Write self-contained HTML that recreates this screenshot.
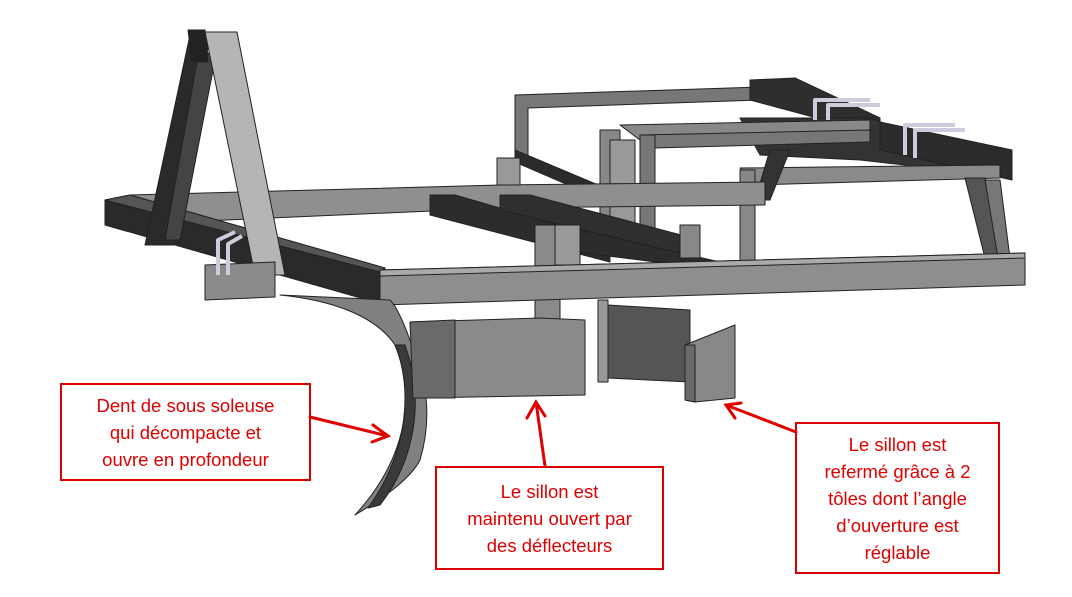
<!DOCTYPE html>
<html><head><meta charset="utf-8"><style>
html,body{margin:0;padding:0;background:#fff;width:1072px;height:597px;overflow:hidden}
.b{position:absolute;border:2px solid #d80000;box-sizing:border-box;color:#e00000;font:18.5px/27px "Liberation Sans",sans-serif;text-align:center;display:flex;align-items:center;justify-content:center}
</style></head><body>
<svg width="1072" height="597" style="position:absolute;left:0;top:0" xmlns="http://www.w3.org/2000/svg">
<g stroke="#222" stroke-width="1" stroke-linejoin="round">
<polygon points="515,95 760,87 760,100 528,108 528,160 515,160" fill="#777"/>
<polygon points="515,150 610,190 610,203 515,162" fill="#2b2b2b"/>
<polygon points="750,80 795,78 880,118 880,135 750,100" fill="#2e2e2e"/>
<polygon points="740,118 870,118 950,148 950,170 860,160 760,155" fill="#333"/>
<polygon points="620,125 870,120 870,133 640,140" fill="#888"/>
<polygon points="640,135 870,130 870,142 655,148" fill="#777"/>
<polygon points="640,135 655,135 655,235 640,235" fill="#777"/>
<polygon points="880,122 1012,150 1012,180 880,150" fill="#2b2b2b"/>
<polygon points="740,168 1000,165 1000,178 755,185" fill="#8a8a8a"/>
<polygon points="740,170 755,170 755,262 740,262" fill="#888"/>
<polygon points="600,130 620,130 620,225 600,225" fill="#888"/>
<polygon points="610,140 635,140 635,230 610,230" fill="#999"/>
<polygon points="770,150 790,150 770,200 755,200" fill="#333"/>
<polygon points="965,178 985,178 1005,258 985,258" fill="#555"/>
<polygon points="985,180 1000,180 1010,258 998,258" fill="#777"/>
<path d="M815 120 L815 100 L870 100 M828 120 L828 105 L880 105 M905 155 L905 125 L955 125 M915 158 L915 130 L965 130" fill="none" stroke="#ccd" stroke-width="4"/>
<polygon points="130,195 500,185 765,182 765,205 500,208 180,222" fill="#8f8f8f"/>
<polygon points="497,158 520,158 520,185 497,185" fill="#999"/>
<polygon points="430,195 455,195 610,240 610,262 430,215" fill="#2c2c2c"/>
<polygon points="500,195 530,195 700,240 700,258 500,210" fill="#2f2f2f"/>
<polygon points="555,230 580,230 720,262 720,270 560,250" fill="#2c2c2c"/>
<polygon points="535,225 560,225 560,320 535,320" fill="#8a8a8a"/>
<polygon points="555,225 580,225 580,265 555,265" fill="#999"/>
<polygon points="680,225 700,225 700,258 680,258" fill="#888"/>
<polygon points="105,200 130,195 385,268 385,305 105,225" fill="#2a2a2a"/>
<polygon points="105,200 130,195 385,268 380,272" fill="#555"/>
<polygon points="190,35 210,35 175,245 145,245" fill="#2a2a2a"/>
<polygon points="200,45 215,60 180,240 165,240" fill="#444"/>
<polygon points="205,32 237,32 285,275 255,275" fill="#b4b6b6"/>
<polygon points="188,30 205,30 208,62 192,62" fill="#222"/>
<polygon points="380,270 1025,253 1025,285 380,305" fill="#8e8e8e"/>
<polygon points="380,270 1025,253 1025,258 380,276" fill="#aaa"/>
<polygon points="205,265 275,262 275,297 205,300" fill="#8a8a8a"/>
<path d="M218 275 L218 240 L235 232 M228 275 L228 244 L242 236" fill="none" stroke="#ccd" stroke-width="4"/>
<path d="M280,295 C330,300 375,315 395,345 C415,390 410,455 355,515 C380,500 410,480 420,460 C432,420 428,380 410,340 C402,318 395,305 390,300 Z" fill="#808080"/>
<path d="M395,345 C412,385 410,450 368,508 L380,505 C415,460 425,400 405,345 Z" fill="#3a3a3a"/>
<polygon points="410,322 540,318 585,320 585,395 415,398" fill="#8a8a8a"/>
<polygon points="410,322 455,320 455,398 413,398" fill="#6a6a6a"/>
<polygon points="598,300 608,300 608,382 598,382" fill="#999"/>
<polygon points="608,305 690,310 690,382 608,378" fill="#555"/>
<polygon points="685,345 735,325 735,398 695,402 685,400" fill="#888"/>
<polygon points="685,345 695,345 695,402 685,400" fill="#6a6a6a"/>
</g>
<g stroke="#e00000" stroke-width="3" fill="none" stroke-linecap="round">
<path d="M310,417 L388,436 M373,425 L388,436 L372,442"/>
<path d="M545,466 L536,402 M527,418 L536,402 L545,416"/>
<path d="M796,432 L726,405 M741,403 L726,405 L735,418"/>
</g>
</svg>
<div class="b" style="left:60px;top:383px;width:251px;height:98px">Dent de sous soleuse<br>qui décompacte et<br>ouvre en profondeur</div>
<div class="b" style="left:435px;top:466px;width:229px;height:104px">Le sillon est<br>maintenu ouvert par<br>des déflecteurs</div>
<div class="b" style="left:795px;top:422px;width:205px;height:152px">Le sillon est<br>refermé grâce à 2<br>tôles dont l’angle<br>d’ouverture est<br>réglable</div>
</body></html>
